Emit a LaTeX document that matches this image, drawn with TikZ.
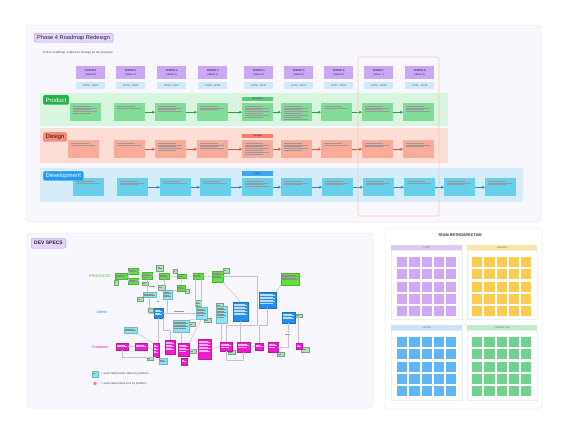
\documentclass[tikz,border=0pt]{standalone}
\usepackage{fontspec}
\setmainfont{Liberation Sans}
\usetikzlibrary{arrows.meta, positioning, shapes.geometric, calc}

\definecolor{panelbg}{HTML}{F9F7FE}
\definecolor{tagfill}{HTML}{E4D5FA}
\definecolor{tagline}{HTML}{B893EC}
\definecolor{sprintfill}{HTML}{CBA8F5}
\definecolor{sprinttext}{HTML}{3A2260}
\definecolor{datefill}{HTML}{CFE8FB}
\definecolor{prodlane}{HTML}{D8F5DF}
\definecolor{prodtag}{HTML}{22B14C}
\definecolor{prodcard}{HTML}{80DC96}
\definecolor{prodmark}{HTML}{5BCB77}
\definecolor{prodarrow}{HTML}{2E9A4C}
\definecolor{deslane}{HTML}{FDDED7}
\definecolor{destag}{HTML}{F58D78}
\definecolor{descard}{HTML}{FAAA99}
\definecolor{desmark}{HTML}{F47E69}
\definecolor{desarrow}{HTML}{E0523C}
\definecolor{devlane}{HTML}{D5EDFB}
\definecolor{devtag}{HTML}{1E9CF2}
\definecolor{devcard}{HTML}{66CFEC}
\definecolor{devmark}{HTML}{40A4EE}
\definecolor{devarrow}{HTML}{2A7FD8}
\definecolor{hilite}{HTML}{F5C7A2}
\definecolor{specgreen}{HTML}{5EE23E}
\definecolor{specnote}{HTML}{A9E8B6}
\definecolor{speccyan}{HTML}{8AE6F3}
\definecolor{specblue}{HTML}{2190F0}
\definecolor{specpink}{HTML}{EC1DCC}
\definecolor{specline}{HTML}{C2C1CE}
\definecolor{likedhd}{HTML}{DEC7F9}
\definecolor{likedst}{HTML}{D0A8F6}
\definecolor{learnhd}{HTML}{FBE4A6}
\definecolor{learnst}{HTML}{FBCC50}
\definecolor{lackhd}{HTML}{C6E3FA}
\definecolor{lackst}{HTML}{5EB6F6}
\definecolor{longhd}{HTML}{BFEDCB}
\definecolor{longst}{HTML}{70D38D}

\tikzset{
  panel/.style={draw=black!9, fill=panelbg, rounded corners=4pt, line width=.5pt},
  titletag/.style={draw=tagline, fill=tagfill, rounded corners=2pt, text=black!85,
    inner xsep=3pt, inner ysep=0pt, minimum height=9pt, anchor=north west},
  sprinthd/.style={fill=sprintfill, text=sprinttext, minimum width=29pt, minimum height=13pt,
    inner sep=0pt, align=center, font=\fontsize{2.6}{3.4}\selectfont, anchor=north west},
  datebox/.style={fill=datefill, text=black!70, minimum width=29pt, minimum height=7pt,
    inner sep=0pt, font=\fontsize{2.6}{3}\selectfont, anchor=north west},
  lanetag/.style={rounded corners=1.5pt, inner xsep=2.5pt, inner ysep=0pt, minimum height=9.5pt,
    anchor=north west, font=\fontsize{6}{7}\selectfont},
  coltag/.style={minimum width=31pt, minimum height=4.5pt, inner sep=0pt, anchor=north west,
    font=\bfseries\fontsize{2.2}{2.4}\selectfont, text=black!75},
  cardtxt/.style={path picture={\foreach \k in {1,...,#1}
      \draw[line width=.2pt, black!40]
        ($(path picture bounding box.north west)+({3},{1.9*\k+0.6})$) --
        ($(path picture bounding box.north east)+({-4-6*mod(\k,2)},{1.9*\k+0.6})$);}},
  card/.style={minimum width=31pt, minimum height=18pt, inner sep=0pt, anchor=north west, cardtxt=#1},
  flow/.style={line width=.6pt, -{Stealth[length=3pt, width=3pt]}},
  hilitebox/.style={draw=hilite, line width=.6pt, rounded corners=2pt},
  % dev specs boxes
  boxink/.initial=black!45,
  boxtxt/.style={path picture={\foreach \k in {1,...,#1}
      \draw[line width=.18pt, draw=\pgfkeysvalueof{/tikz/boxink}]
        ($(path picture bounding box.north west)+({1.4},{1.5*\k+0.3})$) --
        ($(path picture bounding box.north east)+({-1.4-2*mod(\k,2)},{1.5*\k+0.3})$);}},
  sz/.style 2 args={minimum width=#1pt, minimum height=#2pt},
  specbox/.style={inner sep=0pt, line width=.2pt},
  sg/.style={specbox, fill=specgreen, draw=specgreen!80!black, boxtxt=#1}, sg/.default=2,
  sn/.style={specbox, fill=specnote, draw=specnote!70!black, boxtxt=#1}, sn/.default=1,
  sc/.style={specbox, fill=speccyan, draw=speccyan!80!black, boxtxt=#1}, sc/.default=2,
  sb/.style={specbox, fill=specblue, draw=specblue!80!black, boxink=white!70!specblue, boxtxt=#1}, sb/.default=4,
  sm/.style={specbox, fill=specpink, draw=specpink!80!black, boxink=white!65!specpink, boxtxt=#1}, sm/.default=2,
  slbl/.style={specbox, minimum height=2.6pt, boxink=black!40, boxtxt=1},
  sline/.style={draw=specline, line width=.5pt},
  rolelbl/.style={font=\fontsize{3.8}{4}\selectfont, inner sep=0pt},
  legtxt/.style={anchor=west, inner sep=0pt, font=\fontsize{2.9}{3}\selectfont, text=black!70},
  % retrospective
  qhead/.style={minimum width=71pt, minimum height=5pt, inner sep=0pt, anchor=north west,
    font=\fontsize{2.2}{2.4}\selectfont, text=black!60},
  qframe/.style={draw=black!7, fill=white, line width=.4pt},
  sticky/.style={minimum width=10.2pt, minimum height=10pt, inner sep=0pt, anchor=north west},
}

\begin{document}
\begin{tikzpicture}[x=1pt, y=-1pt, font=\fontsize{3}{3.6}\selectfont]
  \useasboundingbox (0,0) rectangle (575,434);
  \fill[white] (0,0) rectangle (575,434);

  % Roadmap panel
  \draw[panel] (26,25) rectangle (541,222);
  \node[titletag, font=\fontsize{5.7}{6}\selectfont] (title) at (34,33) {Phase 4 Roadmap Redesign};
  \node[anchor=west, inner sep=0pt, text=black!70, font=\fontsize{3.1}{3.5}\selectfont] (sub) at (43,53)
    {Active roadmap: subject to change as we progress};

  % sprint columns
  \foreach \x/\nm/\wk/\dt [count=\i from 0] in {76/KICKOFF/0/{10/09 - 10/13}, 116/SPRINT 1/1/{10/16 - 10/20},
      157/SPRINT 2/2/{10/23 - 10/27}, 198/SPRINT 3/3/{10/30 - 11/03}, 244/SPRINT 4/4/{11/06 - 11/10},
      284/SPRINT 5/5/{11/13 - 11/17}, 324/SPRINT 6/6/{11/27 - 12/01}, 364/SPRINT 7/7/{12/04 - 12/08},
      405/SPRINT 8/8/{12/11 - 12/15}}
  {
    \node[sprinthd] (hd\i) at (\x,66) {\textbf{\nm}\\(Week \wk)};
    \node[datebox] (dt\i) at (\x,82) {\dt};
  }

  % swimlanes
  \fill[prodlane] (40,93) rectangle (448,126);
  \fill[deslane] (40,128) rectangle (448,163);
  \fill[devlane] (40,168) rectangle (523,202);

  % Product
  \foreach \x/\n [count=\i from 0] in {70/5, 114/2, 155/4, 197/3, 242/7, 281/8, 321/2, 362/4, 403/4}
    \node[card=\n, fill=prodcard] (p\i) at (\x,103) {};
  \foreach \i [evaluate=\i as \j using int(\i+1)] in {1,...,7}
    \draw[flow, prodarrow] (p\i) -- (p\j);
  \node[lanetag, fill=prodtag, text=white] (prodtag) at (43,95) {Product};
  \node[coltag, fill=prodmark] (prodcol) at (242,96.5) {PRODUCT};

  % Design
  \foreach \x/\n [count=\i from 0] in {68/2, 114/2, 155/5, 197/4, 242/7, 281/5, 321/2, 362/3, 403/3}
    \node[card=\n, fill=descard] (d\i) at (\x,140) {};
  \foreach \i [evaluate=\i as \j using int(\i+1)] in {1,...,7}
    \draw[flow, desarrow] (d\i) -- (d\j);
  \node[lanetag, fill=destag, text=black!80!red] (destag) at (43,132) {Design};
  \node[coltag, fill=desmark] (descol) at (242,133.5) {DESIGN};

  % Development
  \foreach \x/\n [count=\i from 0] in {73/2, 117/3, 160/2, 200/2, 242/4, 281/3, 322/3, 363/3, 404/2, 444/3, 485/3}
    \node[card=\n, fill=devcard] (v\i) at (\x,178) {};
  \foreach \i [evaluate=\i as \j using int(\i+1)] in {1,...,9}
    \draw[flow, devarrow] (v\i) -- (v\j);
  \node[lanetag, fill=devtag, draw=devtag!60, text=white] (devtag) at (43,171) {Development};
  \node[coltag, fill=devmark] (devcol) at (242,171) {DEV};

  % current sprints
  \draw[hilitebox] (358,57) rectangle (439,216);

  % Dev specs panel
  \draw[panel] (27,233) rectangle (373,408);
  \node[titletag, font=\bfseries\fontsize{5}{6}\selectfont, minimum height=10pt] (spectitle) at (31,238) {DEV SPECS};
  \node[rolelbl, text=specgreen!85!black] (lprod) at (100,276) {PRODUCER};
  \node[rolelbl, text=specblue] (ladmin) at (102,312) {Admin};
  \node[rolelbl, text=specpink] (leval) at (100.5,347) {Evaluator};

  \coordinate (loopcorner) at (257,325);

  % producer boxes
  \node[sg, sz={12}{6}] (g1) at (121,276) {};
  \node[sg, sz={10}{6}] (g2) at (133,271) {};
  \node[sg, sz={10}{6}] (g3) at (133,281) {};
  \node[sg=3, sz={10}{7}] (g4) at (147,275.5) {};
  \node[sg, sz={10}{6}] (g5) at (164,276) {};
  \node[sg=1, sz={9}{4}] (g6) at (181.5,276.5) {};
  \node[sg, sz={8}{6}] (g7) at (181,288) {};
  \node[sg, sz={10}{6}] (g8) at (198,276) {};
  \node[sg=4, sz={11}{11}] (g9) at (217.5,276.5) {};
  \node[sg=4, sz={18}{12}] (g10) at (290,279) {};
  % sticky notes
  \node[sn, sz={4}{5}] (n1) at (116,282.5) {};
  \node[sn=2, sz={7}{6}] (n2) at (160,268) {};
  \node[sn, sz={4}{4}] (n3) at (175.5,271) {};
  \node[sn, sz={6}{3.5}] (n4) at (145,283.5) {};
  \node[sn, sz={7}{5}] (n5) at (161.5,288) {};
  \node[sn, sz={4}{4}] (n6) at (187,291) {};
  \node[sn, sz={6}{5}] (n7) at (226,270.5) {};
  \node[sn, sz={6}{4}] (n8) at (140,299) {};
  \node[sn, sz={5}{4}] (n9) at (150.5,310) {};
  \node[sn=3, sz={6}{6}] (n10) at (198,303) {};
  \node[sn, sz={7}{4}] (n11) at (207.5,320) {};
  \node[sn=2, sz={7}{5}] (n12) at (219.5,305.5) {};
  \node[sn, sz={6}{4}] (n13) at (192,324) {};
  \node[sn, sz={6}{3.5}] (n14) at (150,358.5) {};
  \node[sn, sz={7}{4}] (n15) at (192.5,351) {};
  \node[sn, sz={7}{4}] (n16) at (231.5,352) {};
  \node[sn, sz={7}{3.5}] (n17) at (298.5,315.5) {};
  \node[sn, sz={8}{5}] (n18) at (305,349.5) {};
  \node[sn, sz={7}{4}] (n19) at (280.5,354) {};
  % automated actions
  \node[sc, sz={13}{5}] (c1) at (149.5,294.5) {};
  \node[sc=4, sz={9}{9}] (c2) at (167.5,294.5) {};
  \node[sc=5, sz={11}{12}] (c3) at (201.5,313) {};
  \node[sc=5, sz={16}{12}] (c4) at (181,326) {};
  \node[sc=7, sz={11}{17}] (c5) at (221.5,314.5) {};
  \node[sc, sz={13}{6}] (c6) at (130.5,330) {};
  \node[sc, sz={8}{6}] (c7) at (163,361) {};
  % admin boxes
  \node[sb=4, sz={9}{10}] (b1) at (158.5,313) {};
  \node[sb=8, sz={15}{19}] (b2) at (240.5,311.5) {};
  \node[sb=7, sz={17}{16}] (b3) at (267.5,300) {};
  \node[sb=4, sz={13}{11}] (b4) at (288.5,317.5) {};
  % evaluator boxes
  \node[sm, sz={12}{7}] (m1) at (122,346.5) {};
  \node[sm, sz={12}{7}] (m2) at (141,346.5) {};
  \node[sm=6, sz={6}{14}] (m3) at (156,350) {};
  \node[sm=6, sz={10}{14}] (m4) at (170,347) {};
  \node[sm=5, sz={11}{13}] (m5) at (183.5,349.5) {};
  \node[sm=2, sz={6}{7}] (m6) at (184,361.5) {};
  \node[sm=8, sz={13}{20}] (m7) at (204.5,349) {};
  \node[sm=3, sz={12}{9}] (m8) at (226,346.5) {};
  \node[sm=3, sz={13}{10}] (m9) at (243.5,347) {};
  \node[sm=2, sz={8}{7}] (m10) at (259,346.5) {};
  \node[sm=3, sz={10}{10}] (m11) at (273,347) {};
  \node[sm=2, sz={6}{6}] (m12) at (299,346) {};

  % connectors
  \draw[sline] (g1.east) -- ++(1,0) |- (g2.west);
  \draw[sline] (g1.east) -- ++(1,0) |- (g3.west);
  \draw[sline] (g2.east) -- (g4.west);
  \draw[sline] (g3.east) -- (g4.west);
  \draw[sline] (g4.east) -- (g5.west);
  \draw[sline] (g5.east) -- (g6.west);
  \draw[sline] (g6.east) -- (g8.west);
  \draw[sline] (g6.south) -- (g7.north);
  \draw[sline] (g8.east) -- (g9.west);
  \draw[sline] (g9.east) -| (loopcorner) -| (m8.north);
  \draw[sline] (g9.south east) -- (b2.north);
  \draw[sline] (g10.south west) -- (b3.north east);
  \draw[sline] ([xshift=-3pt]g8.south) -- ([xshift=-3pt]g8.south |- c3.north);
  \draw[sline] ([xshift=3pt]g8.south) -- ([xshift=3pt]g8.south |- c3.north);
  \draw[sline] (g4.south) -- (g4.south |- c1.north);
  \draw[sline] (g5.south) -- (g5.south |- c2.north);
  \draw[sline] (g7.south west) -- (c2.north east);
  \draw[sline] (c2.south) |- (b1.east);
  \draw[sline] (c1.south) |- (b1.west);
  \draw[sline] (b1.east) -- (b1.east -| c3.west);
  \draw[sline] (b1.south) -- (b1.south |- m3.north);
  \draw[sline] (b1.south east) -- ++(0,12) -| (m4.north);
  \draw[sline] (c6.south east) -- (m3.north west);
  \draw[sline] (m1.east) -- (m2.west);
  \draw[sline] (m2.east) -- (m3.west);
  \draw[sline] (m1.south) -- ++(0,7) -| (m3.south);
  \draw[sline] (c4.south) -- (c4.south |- m5.north);
  \draw[sline] (c4.north east) -- (c3.south west);
  \draw[sline] (c3.south) -- (m5.north east);
  \draw[sline] (m5.east) -- (m7.west);
  \draw[sline] (m7.east) -- (m8.west);
  \draw[sline] (c5.south) -- (c5.south |- m8.north);
  \draw[sline] (m8.south) -- ++(0,9) -| (m9.south);
  \draw[sline] (b2.south) -- (b2.south |- m9.north);
  \draw[sline] (m9.east) -- (m10.west);
  \draw[sline] (m10.east) -- (m11.west);
  \draw[sline] (b3.south) -- ++(0,17) -| (m10.north);
  \draw[sline] (b4.south) |- (m11.east);
  \draw[sline] (n17.south) -- (n17.south |- m12.north);
  % line labels
  \node[slbl, sz={10}{2.6}] (lb1) at (153,286) {};
  \node[slbl, sz={6}{2.6}] (lb2) at (159,301) {};
  \node[slbl, sz={14}{2.6}] (lb3) at (180,310.5) {};
  \node[slbl, sz={10}{2.6}, fill=white] (lb4) at (288.5,334) {};

  % legend
  \node[sc=1, sz={6}{6}] (legc) at (95,374) {};
  \node[legtxt] (legct) at (101,374) {= automated action taken by platform};
  \node[star, star points=8, star point ratio=1.8, fill=red!55, inner sep=0pt, minimum size=4pt] (legs) at (95,383.5) {};
  \node[legtxt] (legst) at (101,383.5) {= automated email sent by platform};

  % Team retrospective
  \draw[panel, fill=white] (385,228) rectangle (542,409);
  \node[font=\bfseries\fontsize{3.8}{4}\selectfont, text=black!85] (rtitle) at (460,235.5) {TEAM RETROSPECTIVE};
  \draw[qframe] (391,250) rectangle (462,319);
  \draw[qframe] (467,250) rectangle (537,319);
  \draw[qframe] (391,330) rectangle (462,400);
  \draw[qframe] (467,330) rectangle (537,400);
  \node[qhead, fill=likedhd] (qliked) at (391,245) {LIKED};
  \node[qhead, fill=learnhd, minimum width=70pt] (qlearn) at (467,245) {LEARNED};
  \node[qhead, fill=lackhd] (qlack) at (391,325) {LACKED};
  \node[qhead, fill=longhd, minimum width=70pt] (qlong) at (467,325) {LONGED FOR};
  \foreach \col/\x/\y/\q in {likedst/397/257/a, learnst/472/257/b, lackst/397/337/c, longst/472/337/d}
    \foreach \i in {0,...,4}
      \foreach \j in {0,...,4}
        \node[sticky, fill=\col] (st\q\i\j) at (\x+12.2*\i, \y+12.2*\j) {};
\end{tikzpicture}
\end{document}
